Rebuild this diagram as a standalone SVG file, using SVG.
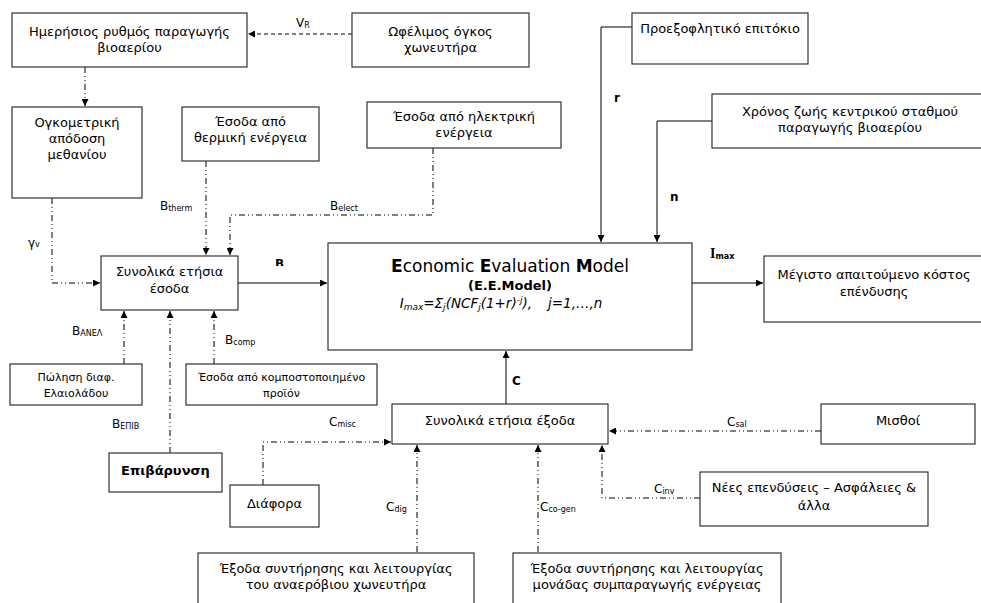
<svg xmlns="http://www.w3.org/2000/svg" width="981" height="603" viewBox="0 0 981 603">
<style>
.box{fill:#fff;stroke:#333;stroke-width:1.2}
.t{font-family:"DejaVu Sans",Verdana,sans-serif;font-size:13px;fill:#000;text-anchor:middle}
.ts{font-family:"DejaVu Sans",Verdana,sans-serif;font-size:11px;fill:#000;text-anchor:middle}
.lb{font-family:"DejaVu Sans",Verdana,sans-serif;font-size:12px;fill:#000}
.sub{font-size:8px}
.bold{font-weight:bold}
.solid{fill:none;stroke:#000;stroke-width:1}
.dash{fill:none;stroke:#000;stroke-width:1;stroke-dasharray:4 3}
.dd{fill:none;stroke:#000;stroke-width:1;stroke-dasharray:6 3 1 3 1 3}
</style>
<defs>
<marker id="ah" viewBox="0 0 10 10" refX="10" refY="5" markerWidth="7" markerHeight="7" markerUnits="userSpaceOnUse" orient="auto">
<path d="M0,0 L10,5 L0,10 z" fill="#000"/>
</marker>
<clipPath id="clipB"><rect x="260" y="250" width="40" height="16"/></clipPath>
</defs>
<rect width="981" height="603" fill="#fff"/>

<g id="connectors">
<path class="dash" d="M352,34 H248" marker-end="url(#ah)"/>
<path class="dd" d="M85,67 V106" marker-end="url(#ah)"/>
<path class="dd" d="M52,198 V283 H100" marker-end="url(#ah)"/>
<path class="dd" d="M206,161 V255" marker-end="url(#ah)"/>
<path class="dd" d="M433,148 V215 H230 V255" marker-end="url(#ah)"/>
<path class="solid" d="M238,283 H327" marker-end="url(#ah)"/>
<path class="solid" d="M632,27 H601 V242" marker-end="url(#ah)"/>
<path class="solid" d="M712,121 H657 V242" marker-end="url(#ah)"/>
<path class="solid" d="M692,283 H763" marker-end="url(#ah)"/>
<path class="dd" d="M124,364 V311" marker-end="url(#ah)"/>
<path class="dd" d="M170,453 V311" marker-end="url(#ah)"/>
<path class="dd" d="M214,364 V311" marker-end="url(#ah)"/>
<path class="solid" d="M506,404 V351" marker-end="url(#ah)"/>
<path class="dd" d="M263,485 V442 H391" marker-end="url(#ah)"/>
<path class="dd" d="M417,552 V445" marker-end="url(#ah)"/>
<path class="dd" d="M538,552 V445" marker-end="url(#ah)"/>
<path class="dd" d="M700,498 H602 V445" marker-end="url(#ah)"/>
<path class="dd" d="M821,431 H609" marker-end="url(#ah)"/>

<text class="lb" x="296" y="27">V<tspan class="sub" dy="1">R</tspan></text>
<text class="lb" x="28" y="247">γ<tspan class="sub" dy="0">v</tspan></text>
<text class="lb" x="160" y="210">B<tspan class="sub" dy="1">therm</tspan></text>
<text class="lb" x="330" y="210">B<tspan class="sub" dy="1">elect</tspan></text>
<text class="lb bold" x="275" y="268" font-size="13px" clip-path="url(#clipB)">B</text>
<text class="lb bold" x="614" y="102">r</text>
<text class="lb bold" x="670" y="201">n</text>
<text class="lb bold" x="710" y="258"><tspan font-family="'Liberation Serif',serif" font-size="14px">I</tspan><tspan class="sub" dy="1">max</tspan></text>
<text class="lb" x="72" y="335">B<tspan class="sub" dy="1">ΑΝΕΛ</tspan></text>
<text class="lb" x="225" y="344">B<tspan class="sub" dy="1">comp</tspan></text>
<text class="lb" x="112" y="428">B<tspan class="sub" dy="1">ΕΠΙΒ</tspan></text>
<text class="lb bold" x="512" y="385">C</text>
<text class="lb" x="329" y="426">C<tspan class="sub" dy="1">misc</tspan></text>
<text class="lb" x="386" y="511">C<tspan class="sub" dy="1">dig</tspan></text>
<text class="lb" x="540" y="511">C<tspan class="sub" dy="1">co-gen</tspan></text>
<text class="lb" x="654" y="493">C<tspan class="sub" dy="1">inv</tspan></text>
<text class="lb" x="727" y="426">C<tspan class="sub" dy="1">sal</tspan></text>
</g>

<g id="n1"><rect class="box" x="12" y="13" width="235" height="54"/>
<text class="t" x="129.5" y="36">Ημερήσιος ρυθμός παραγωγής</text>
<text class="t" x="129.5" y="52">βιοαερίου</text></g>

<g id="n2"><rect class="box" x="352" y="13" width="177" height="54"/>
<text class="t" x="440.5" y="36">Ωφέλιμος όγκος</text>
<text class="t" x="440.5" y="52">χωνευτήρα</text></g>

<g id="n3"><rect class="box" x="12" y="107" width="130" height="91"/>
<text class="t" x="77" y="127">Ογκομετρική</text>
<text class="t" x="77" y="143">απόδοση</text>
<text class="t" x="77" y="159">μεθανίου</text></g>

<g id="n4"><rect class="box" x="182" y="107" width="137" height="54"/>
<text class="t" x="250.5" y="126">Έσοδα από</text>
<text class="t" x="250.5" y="142">θερμική ενέργεια</text></g>

<g id="n5"><rect class="box" x="367" y="102" width="194" height="46"/>
<text class="t" x="464" y="121">Έσοδα από ηλεκτρική</text>
<text class="t" x="464" y="137">ενέργεια</text></g>

<g id="n6"><rect class="box" x="632" y="13" width="176" height="51"/>
<text class="t" x="720" y="33">Προεξοφλητικό επιτόκιο</text></g>

<g id="n7"><rect class="box" x="712" y="94" width="270" height="54"/>
<text class="t" x="850" y="116">Χρόνος ζωής κεντρικού σταθμού</text>
<text class="t" x="850" y="132">παραγωγής βιοαερίου</text></g>

<g id="n8"><rect class="box" x="101" y="256" width="137" height="54"/>
<text class="t" x="169.5" y="276">Συνολικά ετήσια</text>
<text class="t" x="169.5" y="293">έσοδα</text></g>

<g id="n9"><rect class="box" x="328" y="243" width="364" height="107"/>
<text x="510" y="272" font-family="'DejaVu Sans',Verdana,sans-serif" font-size="17px" text-anchor="middle"><tspan font-weight="bold">E</tspan>conomic <tspan font-weight="bold">E</tspan>valuation <tspan font-weight="bold">M</tspan>odel</text>
<text x="510" y="290" font-family="'DejaVu Sans',Verdana,sans-serif" font-size="13px" font-weight="bold" text-anchor="middle">(E.E.Model)</text>
<text x="501" y="308" font-family="'DejaVu Sans',Verdana,sans-serif" font-size="13.5px" font-style="italic" text-anchor="middle">I<tspan font-size="9px" dy="2">max</tspan><tspan dy="-2">=Σ</tspan><tspan font-size="9px" dy="2">j</tspan><tspan dy="-2">(NCF</tspan><tspan font-size="9px" dy="2">j</tspan><tspan dy="-2">(1+r)</tspan><tspan font-size="9px" dy="-5">-j</tspan><tspan dy="5">),</tspan><tspan dx="16">j=1,…,n</tspan></text></g>

<g id="n10"><rect class="box" x="764" y="256" width="218" height="66"/>
<text class="t" x="874" y="279">Μέγιστο απαιτούμενο κόστος</text>
<text class="t" x="874" y="296">επένδυσης</text></g>

<g id="n11"><rect class="box" x="10" y="364" width="132" height="41"/>
<text class="ts" x="76" y="381">Πώληση διαφ.</text>
<text class="ts" x="76" y="397">Ελαιολάδου</text></g>

<g id="n12"><rect class="box" x="186" y="364" width="191" height="41"/>
<text class="ts" x="281.5" y="381">Έσοδα από κομποστοποιημένο</text>
<text class="ts" x="281.5" y="397">προϊόν</text></g>

<g id="n13"><rect class="box" x="109" y="453" width="113" height="39"/>
<text class="t bold" x="165.5" y="475">Επιβάρυνση</text></g>

<g id="n14"><rect class="box" x="230" y="485" width="89" height="42"/>
<text class="t" x="274.5" y="508">Διάφορα</text></g>

<g id="n15"><rect class="box" x="392" y="404" width="216" height="40"/>
<text class="t" x="500" y="425">Συνολικά ετήσια έξοδα</text></g>

<g id="n16"><rect class="box" x="198" y="553" width="276" height="60"/>
<text class="t" x="336" y="573">Έξοδα συντήρησης και λειτουργίας</text>
<text class="t" x="336" y="589">του αναερόβιου χωνευτήρα</text></g>

<g id="n17"><rect class="box" x="513" y="553" width="268" height="60"/>
<text class="t" x="647" y="573">Έξοδα συντήρησης και λειτουργίας</text>
<text class="t" x="647" y="589">μονάδας συμπαραγωγής ενέργειας</text></g>

<g id="n18"><rect class="box" x="821" y="404" width="154" height="40"/>
<text class="t" x="898" y="425">Μισθοί</text></g>

<g id="n19"><rect class="box" x="700" y="472" width="228" height="54"/>
<text class="t" x="814" y="492">Νέες επενδύσεις – Ασφάλειες &amp;</text>
<text class="t" x="814" y="510">άλλα</text></g>
</svg>
